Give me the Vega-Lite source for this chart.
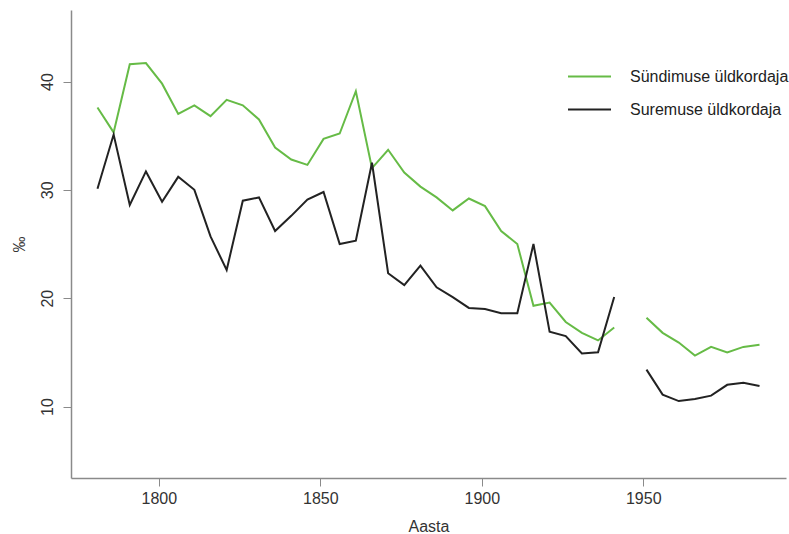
{
  "$schema": "https://vega.github.io/schema/vega-lite/v6.json",
  "autosize": {"type": "none"},
  "width": 715,
  "height": 468,
  "padding": {"left": 71, "top": 10, "right": 3, "bottom": 56},
  "background": "white",
  "config": {
    "view": {"stroke": null},
    "font": "Liberation Sans",
    "axis": {
      "grid": false,
      "domainColor": "#8a8a8a",
      "domainWidth": 1.5,
      "tickColor": "#8a8a8a",
      "tickWidth": 1,
      "tickSize": 8,
      "labelFont": "Liberation Sans",
      "labelFontSize": 16,
      "labelColor": "#333333",
      "titleFont": "Liberation Sans",
      "titleFontSize": 16,
      "titleFontWeight": "normal",
      "titleColor": "#333333"
    }
  },
  "data": {
    "values": [
      {"aasta": 1781, "naitaja": "Sündimuse üldkordaja", "periood": 1, "v": 37.6},
      {"aasta": 1786, "naitaja": "Sündimuse üldkordaja", "periood": 1, "v": 35.3},
      {"aasta": 1791, "naitaja": "Sündimuse üldkordaja", "periood": 1, "v": 41.6},
      {"aasta": 1796, "naitaja": "Sündimuse üldkordaja", "periood": 1, "v": 41.7},
      {"aasta": 1801, "naitaja": "Sündimuse üldkordaja", "periood": 1, "v": 39.8},
      {"aasta": 1806, "naitaja": "Sündimuse üldkordaja", "periood": 1, "v": 37.0},
      {"aasta": 1811, "naitaja": "Sündimuse üldkordaja", "periood": 1, "v": 37.8},
      {"aasta": 1816, "naitaja": "Sündimuse üldkordaja", "periood": 1, "v": 36.8},
      {"aasta": 1821, "naitaja": "Sündimuse üldkordaja", "periood": 1, "v": 38.3},
      {"aasta": 1826, "naitaja": "Sündimuse üldkordaja", "periood": 1, "v": 37.8},
      {"aasta": 1831, "naitaja": "Sündimuse üldkordaja", "periood": 1, "v": 36.5},
      {"aasta": 1836, "naitaja": "Sündimuse üldkordaja", "periood": 1, "v": 33.9},
      {"aasta": 1841, "naitaja": "Sündimuse üldkordaja", "periood": 1, "v": 32.8},
      {"aasta": 1846, "naitaja": "Sündimuse üldkordaja", "periood": 1, "v": 32.3},
      {"aasta": 1851, "naitaja": "Sündimuse üldkordaja", "periood": 1, "v": 34.7},
      {"aasta": 1856, "naitaja": "Sündimuse üldkordaja", "periood": 1, "v": 35.2},
      {"aasta": 1861, "naitaja": "Sündimuse üldkordaja", "periood": 1, "v": 39.1},
      {"aasta": 1866, "naitaja": "Sündimuse üldkordaja", "periood": 1, "v": 32.0},
      {"aasta": 1871, "naitaja": "Sündimuse üldkordaja", "periood": 1, "v": 33.7},
      {"aasta": 1876, "naitaja": "Sündimuse üldkordaja", "periood": 1, "v": 31.6},
      {"aasta": 1881, "naitaja": "Sündimuse üldkordaja", "periood": 1, "v": 30.3},
      {"aasta": 1886, "naitaja": "Sündimuse üldkordaja", "periood": 1, "v": 29.3},
      {"aasta": 1891, "naitaja": "Sündimuse üldkordaja", "periood": 1, "v": 28.1},
      {"aasta": 1896, "naitaja": "Sündimuse üldkordaja", "periood": 1, "v": 29.2},
      {"aasta": 1901, "naitaja": "Sündimuse üldkordaja", "periood": 1, "v": 28.5},
      {"aasta": 1906, "naitaja": "Sündimuse üldkordaja", "periood": 1, "v": 26.2},
      {"aasta": 1911, "naitaja": "Sündimuse üldkordaja", "periood": 1, "v": 25.0},
      {"aasta": 1916, "naitaja": "Sündimuse üldkordaja", "periood": 1, "v": 19.3},
      {"aasta": 1921, "naitaja": "Sündimuse üldkordaja", "periood": 1, "v": 19.6},
      {"aasta": 1926, "naitaja": "Sündimuse üldkordaja", "periood": 1, "v": 17.8},
      {"aasta": 1931, "naitaja": "Sündimuse üldkordaja", "periood": 1, "v": 16.8},
      {"aasta": 1936, "naitaja": "Sündimuse üldkordaja", "periood": 1, "v": 16.1},
      {"aasta": 1941, "naitaja": "Sündimuse üldkordaja", "periood": 1, "v": 17.3},
      {"aasta": 1951, "naitaja": "Sündimuse üldkordaja", "periood": 2, "v": 18.2},
      {"aasta": 1956, "naitaja": "Sündimuse üldkordaja", "periood": 2, "v": 16.8},
      {"aasta": 1961, "naitaja": "Sündimuse üldkordaja", "periood": 2, "v": 15.9},
      {"aasta": 1966, "naitaja": "Sündimuse üldkordaja", "periood": 2, "v": 14.7},
      {"aasta": 1971, "naitaja": "Sündimuse üldkordaja", "periood": 2, "v": 15.5},
      {"aasta": 1976, "naitaja": "Sündimuse üldkordaja", "periood": 2, "v": 15.0},
      {"aasta": 1981, "naitaja": "Sündimuse üldkordaja", "periood": 2, "v": 15.5},
      {"aasta": 1986, "naitaja": "Sündimuse üldkordaja", "periood": 2, "v": 15.7},
      {"aasta": 1781, "naitaja": "Suremuse üldkordaja", "periood": 1, "v": 30.1},
      {"aasta": 1786, "naitaja": "Suremuse üldkordaja", "periood": 1, "v": 35.1},
      {"aasta": 1791, "naitaja": "Suremuse üldkordaja", "periood": 1, "v": 28.6},
      {"aasta": 1796, "naitaja": "Suremuse üldkordaja", "periood": 1, "v": 31.7},
      {"aasta": 1801, "naitaja": "Suremuse üldkordaja", "periood": 1, "v": 28.9},
      {"aasta": 1806, "naitaja": "Suremuse üldkordaja", "periood": 1, "v": 31.2},
      {"aasta": 1811, "naitaja": "Suremuse üldkordaja", "periood": 1, "v": 30.0},
      {"aasta": 1816, "naitaja": "Suremuse üldkordaja", "periood": 1, "v": 25.7},
      {"aasta": 1821, "naitaja": "Suremuse üldkordaja", "periood": 1, "v": 22.6},
      {"aasta": 1826, "naitaja": "Suremuse üldkordaja", "periood": 1, "v": 29.0},
      {"aasta": 1831, "naitaja": "Suremuse üldkordaja", "periood": 1, "v": 29.3},
      {"aasta": 1836, "naitaja": "Suremuse üldkordaja", "periood": 1, "v": 26.2},
      {"aasta": 1841, "naitaja": "Suremuse üldkordaja", "periood": 1, "v": 27.6},
      {"aasta": 1846, "naitaja": "Suremuse üldkordaja", "periood": 1, "v": 29.1},
      {"aasta": 1851, "naitaja": "Suremuse üldkordaja", "periood": 1, "v": 29.8},
      {"aasta": 1856, "naitaja": "Suremuse üldkordaja", "periood": 1, "v": 25.0},
      {"aasta": 1861, "naitaja": "Suremuse üldkordaja", "periood": 1, "v": 25.3},
      {"aasta": 1866, "naitaja": "Suremuse üldkordaja", "periood": 1, "v": 32.5},
      {"aasta": 1871, "naitaja": "Suremuse üldkordaja", "periood": 1, "v": 22.3},
      {"aasta": 1876, "naitaja": "Suremuse üldkordaja", "periood": 1, "v": 21.2},
      {"aasta": 1881, "naitaja": "Suremuse üldkordaja", "periood": 1, "v": 23.0},
      {"aasta": 1886, "naitaja": "Suremuse üldkordaja", "periood": 1, "v": 21.0},
      {"aasta": 1891, "naitaja": "Suremuse üldkordaja", "periood": 1, "v": 20.1},
      {"aasta": 1896, "naitaja": "Suremuse üldkordaja", "periood": 1, "v": 19.1},
      {"aasta": 1901, "naitaja": "Suremuse üldkordaja", "periood": 1, "v": 19.0},
      {"aasta": 1906, "naitaja": "Suremuse üldkordaja", "periood": 1, "v": 18.6},
      {"aasta": 1911, "naitaja": "Suremuse üldkordaja", "periood": 1, "v": 18.6},
      {"aasta": 1916, "naitaja": "Suremuse üldkordaja", "periood": 1, "v": 25.0},
      {"aasta": 1921, "naitaja": "Suremuse üldkordaja", "periood": 1, "v": 16.9},
      {"aasta": 1926, "naitaja": "Suremuse üldkordaja", "periood": 1, "v": 16.5},
      {"aasta": 1931, "naitaja": "Suremuse üldkordaja", "periood": 1, "v": 14.9},
      {"aasta": 1936, "naitaja": "Suremuse üldkordaja", "periood": 1, "v": 15.0},
      {"aasta": 1941, "naitaja": "Suremuse üldkordaja", "periood": 1, "v": 20.1},
      {"aasta": 1951, "naitaja": "Suremuse üldkordaja", "periood": 2, "v": 13.4},
      {"aasta": 1956, "naitaja": "Suremuse üldkordaja", "periood": 2, "v": 11.1},
      {"aasta": 1961, "naitaja": "Suremuse üldkordaja", "periood": 2, "v": 10.5},
      {"aasta": 1966, "naitaja": "Suremuse üldkordaja", "periood": 2, "v": 10.7},
      {"aasta": 1971, "naitaja": "Suremuse üldkordaja", "periood": 2, "v": 11.0},
      {"aasta": 1976, "naitaja": "Suremuse üldkordaja", "periood": 2, "v": 12.0},
      {"aasta": 1981, "naitaja": "Suremuse üldkordaja", "periood": 2, "v": 12.2},
      {"aasta": 1986, "naitaja": "Suremuse üldkordaja", "periood": 2, "v": 11.9}
    ]
  },
  "mark": {"type": "line", "strokeWidth": 2, "strokeJoin": "miter", "clip": true},
  "encoding": {
    "x": {
      "field": "aasta",
      "type": "quantitative",
      "scale": {"domain": [1772.8, 1994.2], "nice": false, "zero": false},
      "axis": {"values": [1800, 1850, 1900, 1950], "format": "d", "title": "Aasta", "labelPadding": 4, "titlePadding": 12}
    },
    "y": {
      "field": "v",
      "type": "quantitative",
      "scale": {"domain": [3.4, 46.6], "nice": false, "zero": false},
      "axis": {"values": [10, 20, 30, 40], "format": "d", "title": "‰", "labelAngle": -90, "labelAlign": "center", "labelBaseline": "bottom", "labelPadding": 8, "titlePadding": 12}
    },
    "color": {
      "field": "naitaja",
      "type": "nominal",
      "sort": ["Sündimuse üldkordaja", "Suremuse üldkordaja"],
      "scale": {"domain": ["Sündimuse üldkordaja", "Suremuse üldkordaja"], "range": ["#66bb46", "#222222"]},
      "legend": {
        "title": null,
        "orient": "none",
        "legendX": 496,
        "legendY": 44,
        "symbolType": "stroke",
        "symbolSize": 1849,
        "symbolStrokeWidth": 2,
        "labelFont": "Liberation Sans",
        "labelFontSize": 16,
        "labelColor": "#222222",
        "labelOffset": 18,
        "labelLimit": 400,
        "rowPadding": 2
      }
    },
    "detail": {"field": "periood", "type": "nominal"}
  }
}
